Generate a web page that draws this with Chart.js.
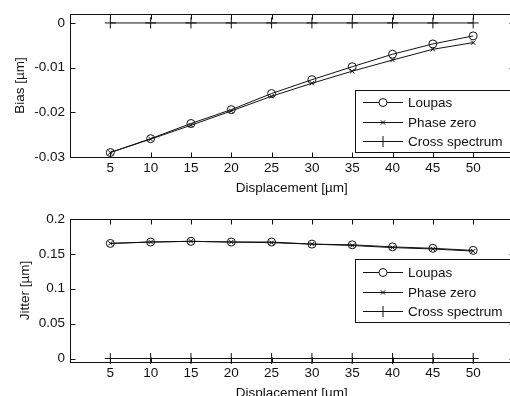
<!DOCTYPE html>
<html>
<head>
<meta charset="utf-8">
<script src="https://cdn.jsdelivr.net/npm/chart.js@4"></script>
<style>
  html, body { margin: 0; padding: 0; background: #fff; overflow: hidden; width: 510px; height: 396px; }
  .plot { position: absolute; left: 0; width: 520px; height: 198px; }
</style>
</head>
<body>
<div class="plot" style="top:0"><canvas id="bias-chart"></canvas></div>
<div class="plot" style="top:205px"><canvas id="jitter-chart"></canvas></div>
<script>
//data
const displacement = [5, 10, 15, 20, 25, 30, 35, 40, 45, 50];
const biasLoupas = [-0.029, -0.0259, -0.0225, -0.0194, -0.0158, -0.0127, -0.0098, -0.007, -0.0047, -0.0029];
const biasPhaseZero = [-0.029, -0.026, -0.0229, -0.0197, -0.0164, -0.0135, -0.0108, -0.0083, -0.0059, -0.0044];
const biasCross = [0, 0, 0, 0, 0, 0, 0, 0, 0, 0];
const jitterLoupas = [0.165, 0.167, 0.168, 0.167, 0.167, 0.164, 0.163, 0.16, 0.158, 0.155];
const jitterPhaseZero = [0.165, 0.167, 0.168, 0.167, 0.166, 0.164, 0.162, 0.159, 0.157, 0.154];
const jitterCross = [0, 0, 0, 0, 0, 0, 0, 0, 0, 0];

//ticks
const xTicks = [5, 10, 15, 20, 25, 30, 35, 40, 45, 50];
const biasTicks = [-0.03, -0.02, -0.01, 0];
const biasTickLabels = ['-0.03', '-0.02', '-0.01', '0'];
const jitterTicks = [0, 0.05, 0.1, 0.15, 0.2];
const jitterTickLabels = ['0', '0.05', '0.1', '0.15', '0.2'];
const seriesNames = ['Loupas', 'Phase zero', 'Cross spectrum'];

const fontFamily = '"Liberation Sans", Arial, sans-serif';
Chart.defaults.font.family = fontFamily;
Chart.defaults.font.size = 13.5;
Chart.defaults.color = '#111';

const ink = '#111';

//box, inward ticks and legend like matlab
const matlabAxes = {
  id: 'matlabAxes',
  afterDatasetsDraw(chart, args, opts) {
    const { ctx, chartArea: a, scales } = chart;
    ctx.save();
    ctx.strokeStyle = ink;
    ctx.lineWidth = 1;
    const l = Math.round(a.left) + 0.5;
    const r = Math.round(a.right) + 0.5;
    const t = Math.round(a.top) + 0.5;
    const b = Math.round(a.bottom) + 0.5;
    ctx.strokeRect(l, t, r - l, b - t);
    ctx.beginPath();
    scales.x.ticks.forEach((tk) => {
      const px = Math.round(scales.x.getPixelForValue(tk.value)) + 0.5;
      ctx.moveTo(px, b); ctx.lineTo(px, b - 5);
      ctx.moveTo(px, t); ctx.lineTo(px, t + 5);
    });
    scales.y.ticks.forEach((tk) => {
      const py = Math.round(scales.y.getPixelForValue(tk.value)) + 0.5;
      ctx.moveTo(l, py); ctx.lineTo(l + 5, py);
      ctx.moveTo(r, py); ctx.lineTo(r - 5, py);
    });
    ctx.stroke();

    //legend
    const { x, y, w, h, rows } = opts;
    ctx.fillStyle = '#fff';
    ctx.fillRect(x, y, w, h);
    ctx.strokeRect(x + 0.5, y + 0.5, w, h);
    ctx.font = '13.5px ' + fontFamily;
    ctx.textBaseline = 'middle';
    ctx.textAlign = 'left';
    chart.data.datasets.forEach((ds, i) => {
      const ry = Math.round(y + rows[i]) + 0.5;
      ctx.strokeStyle = ink;
      ctx.beginPath();
      ctx.moveTo(x + 8, ry);
      ctx.lineTo(x + 48, ry);
      ctx.stroke();
      Chart.helpers.drawPoint(ctx, {
        pointStyle: ds.pointStyle,
        radius: ds.pointRadius,
        rotation: 0,
        borderWidth: 1,
      }, x + 28, ry);
      ctx.fillStyle = ink;
      ctx.fillText(ds.label, x + 53, ry + 0.5);
    });
    ctx.restore();
  },
};

const buildSeries = (ys) => displacement.map((d, i) => ({ x: d, y: ys[i] }));

const makeDatasets = (loupas, phaseZero, cross) => [
  { label: seriesNames[0], data: buildSeries(loupas), pointStyle: 'circle', pointRadius: 4 },
  { label: seriesNames[1], data: buildSeries(phaseZero), pointStyle: 'crossRot', pointRadius: 3 },
  { label: seriesNames[2], data: buildSeries(cross), pointStyle: 'cross', pointRadius: 5.5 },
].map((ds) => ({
  ...ds,
  showLine: true,
  borderColor: ink,
  borderWidth: 1,
  pointBorderColor: ink,
  pointBackgroundColor: 'rgba(0,0,0,0)',
  pointBorderWidth: 1,
  tension: 0,
  clip: false,
}));

const makeChart = (canvas, datasets, yMin, yMax, yTicks, yLabels, yTitle, yTitlePad, legend) => {
  new Chart(canvas, {
    type: 'scatter',
    data: { datasets },
    options: {
      animation: false,
      responsive: true,
      maintainAspectRatio: false,
      events: [],
      layout: { padding: { top: 14, right: 5, left: 0, bottom: 0 } },
      plugins: {
        legend: { display: false },
        tooltip: { enabled: false },
        matlabAxes: legend,
      },
      scales: {
        x: {
          type: 'linear',
          min: 0,
          max: 55,
          afterBuildTicks: (s) => { s.ticks = xTicks.map((v) => ({ value: v })); },
          afterFit: (s) => { s.height = 41; },
          grid: { display: false, drawTicks: false },
          border: { display: false },
          ticks: { padding: 3, maxRotation: 0, autoSkip: false, color: ink, callback: (v) => String(v) },
          title: { display: true, text: 'Displacement [µm]', color: ink, padding: { top: 0, bottom: 2 } },
        },
        y: {
          type: 'linear',
          min: yMin,
          max: yMax,
          afterBuildTicks: (s) => { s.ticks = yTicks.map((v) => ({ value: v })); },
          afterFit: (s) => { s.width = 70; },
          grid: { display: false, drawTicks: false },
          border: { display: false },
          ticks: { padding: 5, autoSkip: false, color: ink, callback: (v, i) => yLabels[i] },
          title: { display: true, text: yTitle, color: ink, padding: { top: yTitlePad, bottom: 0 } },
        },
      },
    },
    plugins: [matlabAxes],
  });
};

//main function
const main = () => {
  makeChart(
    document.querySelector('#bias-chart'),
    makeDatasets(biasLoupas, biasPhaseZero, biasCross),
    -0.03, 0.002, biasTicks, biasTickLabels, 'Bias [µm]', 12,
    { x: 355, y: 90, w: 155, h: 62, rows: [12, 31.5, 51] }
  );
  makeChart(
    document.querySelector('#jitter-chart'),
    makeDatasets(jitterLoupas, jitterPhaseZero, jitterCross),
    -0.005, 0.2, jitterTicks, jitterTickLabels, 'Jitter [µm]', 17,
    { x: 355, y: 54, w: 155, h: 63, rows: [13, 32.5, 52] }
  );
};

main();
</script>
</body>
</html>
